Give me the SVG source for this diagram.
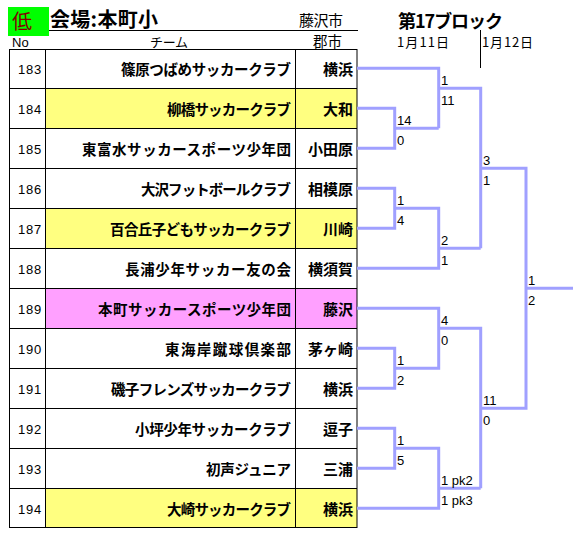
<svg xmlns="http://www.w3.org/2000/svg" width="582" height="540" viewBox="0 0 582 540">
<style>
.jp{font-family:"Noto Sans CJK JP","Liberation Sans",sans-serif;fill:#000}
.team{font-size:14.5px;font-weight:bold;text-anchor:end}
.city{font-size:15px;font-weight:bold;text-anchor:end}
.no{font-family:"Liberation Sans",sans-serif;font-size:13px;letter-spacing:0.8px;text-anchor:end;fill:#000}
.sc{font-family:"Liberation Sans",sans-serif;font-size:13px;fill:#000}
.hdr{font-size:13px}
.grid{stroke:#000;stroke-width:1;fill:none}
.conn{stroke:#A0A0FF;stroke-width:3;fill:none;stroke-linejoin:miter}
.y{fill:#FFFF80}
.p{fill:#FFA0FF}
</style>
<rect width="582" height="540" fill="#fff"/>
<g id="header">
<rect x="8" y="7" width="41" height="29" fill="#00FF00"/>
<text x="12" y="29" class="jp" style="font-size:20px;fill:#800000">低</text>
<text x="50" y="27" class="jp" style="font-size:20px;font-weight:bold" textLength="108" lengthAdjust="spacing">会場:本町小</text>
<line x1="49" y1="30.5" x2="358" y2="30.5" stroke="#000" stroke-width="1"/>
<text x="299" y="26" class="jp" style="font-size:15px" textLength="44" lengthAdjust="spacing">藤沢市</text>
<text x="398" y="28" class="jp" style="font-size:18px;font-weight:bold" textLength="105" lengthAdjust="spacing">第17ブロック</text>
<text x="397" y="47" class="jp hdr" textLength="52" lengthAdjust="spacing">1月11日</text>
<text x="482" y="47" class="jp hdr" textLength="51" lengthAdjust="spacing">1月12日</text>
<line x1="480.5" y1="30" x2="480.5" y2="68" stroke="#000" stroke-width="1"/>
<text x="12" y="47" class="sc">No</text>
<text x="150" y="47" class="jp hdr" textLength="38" lengthAdjust="spacing">チーム</text>
<text x="313" y="47" class="jp" style="font-size:14.5px" textLength="29" lengthAdjust="spacing">郡市</text>
</g>
<g id="fills">
<rect x="45" y="88" width="312" height="40" class="y"/>
<rect x="45" y="208" width="312" height="40" class="y"/>
<rect x="45" y="288" width="312" height="40" class="p"/>
<rect x="45" y="488" width="312" height="39" class="y"/>
</g>
<g id="grid" class="grid">
<rect x="9.5" y="49.5" width="347.5" height="478"/>
<line x1="45.5" y1="49.5" x2="45.5" y2="527.5"/>
<line x1="295.5" y1="49.5" x2="295.5" y2="527.5"/>
<path d="M9.5 88.5H357M9.5 128.5H357M9.5 168.5H357M9.5 208.5H357M9.5 248.5H357M9.5 288.5H357M9.5 328.5H357M9.5 368.5H357M9.5 408.5H357M9.5 448.5H357M9.5 488.5H357"/>
</g>
<g id="t183"><text x="42" y="74" class="no">183</text><text x="291" y="75" class="jp team" textLength="170" lengthAdjust="spacing">篠原つばめサッカークラブ</text><text x="353" y="75" class="jp city">横浜</text></g>
<g id="t184"><text x="42" y="114" class="no">184</text><text x="291" y="115" class="jp team" textLength="124" lengthAdjust="spacing">柳橋サッカークラブ</text><text x="353" y="115" class="jp city">大和</text></g>
<g id="t185"><text x="42" y="154" class="no">185</text><text x="291" y="155" class="jp team" textLength="209" lengthAdjust="spacing">東富水サッカースポーツ少年団</text><text x="353" y="155" class="jp city">小田原</text></g>
<g id="t186"><text x="42" y="194" class="no">186</text><text x="291" y="195" class="jp team" textLength="150" lengthAdjust="spacing">大沢フットボールクラブ</text><text x="353" y="195" class="jp city">相模原</text></g>
<g id="t187"><text x="42" y="234" class="no">187</text><text x="291" y="235" class="jp team" textLength="181" lengthAdjust="spacing">百合丘子どもサッカークラブ</text><text x="353" y="235" class="jp city">川崎</text></g>
<g id="t188"><text x="42" y="274" class="no">188</text><text x="291" y="275" class="jp team" textLength="166" lengthAdjust="spacing">長浦少年サッカー友の会</text><text x="353" y="275" class="jp city">横須賀</text></g>
<g id="t189"><text x="42" y="314" class="no">189</text><text x="291" y="315" class="jp team" textLength="193" lengthAdjust="spacing">本町サッカースポーツ少年団</text><text x="353" y="315" class="jp city">藤沢</text></g>
<g id="t190"><text x="42" y="354" class="no">190</text><text x="291" y="355" class="jp team" textLength="126" lengthAdjust="spacing">東海岸蹴球倶楽部</text><text x="353" y="355" class="jp city">茅ヶ崎</text></g>
<g id="t191"><text x="42" y="394" class="no">191</text><text x="291" y="395" class="jp team" textLength="180" lengthAdjust="spacing">磯子フレンズサッカークラブ</text><text x="353" y="395" class="jp city">横浜</text></g>
<g id="t192"><text x="42" y="434" class="no">192</text><text x="291" y="435" class="jp team" textLength="156" lengthAdjust="spacing">小坪少年サッカークラブ</text><text x="353" y="435" class="jp city">逗子</text></g>
<g id="t193"><text x="42" y="474" class="no">193</text><text x="291" y="475" class="jp team" textLength="85" lengthAdjust="spacing">初声ジュニア</text><text x="353" y="475" class="jp city">三浦</text></g>
<g id="t194"><text x="42" y="514" class="no">194</text><text x="291" y="515" class="jp team" textLength="124" lengthAdjust="spacing">大崎サッカークラブ</text><text x="353" y="515" class="jp city">横浜</text></g>
<g id="connectors" class="conn">
<path d="M357 68.3H438.7V128.3"/>
<path d="M357 108.3H394.7V148.3H357"/>
<path d="M394.7 128.3H438.7"/>
<path d="M438.7 88.3H480.7V248.3"/>
<path d="M357 188.3H394.7V228.3H357"/>
<path d="M394.7 208.3H438.7V268.3H357"/>
<path d="M438.7 248.3H480.7"/>
<path d="M480.7 168.3H526V408.3H480.7"/>
<path d="M526 288.3H573"/>
<path d="M357 308.3H438.7V368.3H394.7"/>
<path d="M357 348.3H394.7V388.3H357"/>
<path d="M438.7 328.3H480.7V488.3"/>
<path d="M357 428.3H394.7V468.3H357"/>
<path d="M394.7 448.3H438.7V508.3H357"/>
<path d="M438.7 488.3H480.7"/>
</g>
<g id="scores">
<text x="441" y="85" class="sc">1</text><text x="441" y="105" class="sc">11</text>
<text x="397" y="125" class="sc">14</text><text x="397" y="145" class="sc">0</text>
<text x="483" y="165" class="sc">3</text><text x="483" y="185" class="sc">1</text>
<text x="397" y="205" class="sc">1</text><text x="397" y="225" class="sc">4</text>
<text x="441" y="245" class="sc">2</text><text x="441" y="265" class="sc">1</text>
<text x="528" y="285" class="sc">1</text><text x="528" y="305" class="sc">2</text>
<text x="441" y="325" class="sc">4</text><text x="441" y="345" class="sc">0</text>
<text x="397" y="365" class="sc">1</text><text x="397" y="385" class="sc">2</text>
<text x="483" y="405" class="sc">11</text><text x="483" y="425" class="sc">0</text>
<text x="397" y="445" class="sc">1</text><text x="397" y="465" class="sc">5</text>
<text x="441" y="485" class="sc">1 pk2</text><text x="441" y="505" class="sc">1 pk3</text>
</g>
</svg>
